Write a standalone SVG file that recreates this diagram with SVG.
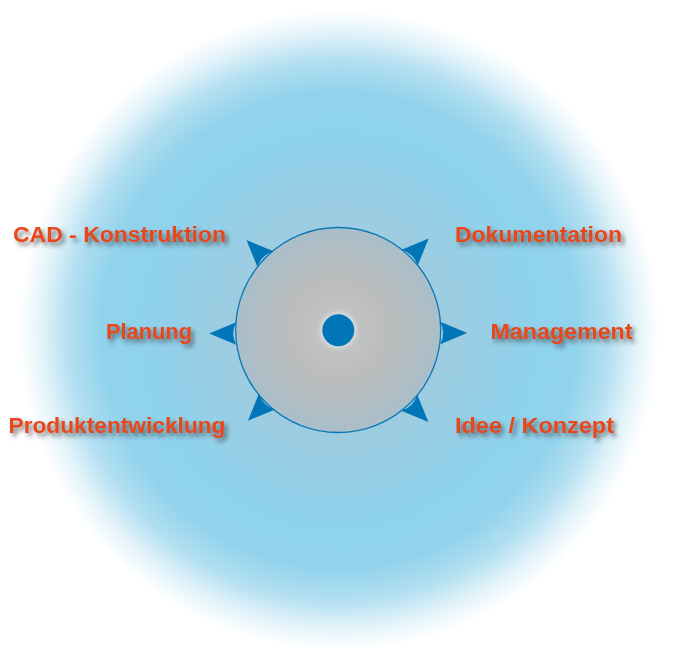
<svg xmlns="http://www.w3.org/2000/svg" xmlns:xlink="http://www.w3.org/1999/xlink" width="677" height="660" viewBox="0 0 677 660">
<style>
.lbl{font-family:"Liberation Sans",Arial,Helvetica,sans-serif;font-weight:bold;font-size:22px;fill:#e8461a;filter:url(#tshadow)}
.arr{fill:#0076b8}
</style>
<defs>
<radialGradient id="bg" gradientUnits="userSpaceOnUse" cx="339" cy="330" r="330">
<stop offset="0" stop-color="#a9c7d4"/>
<stop offset="0.35" stop-color="#9ccde2"/>
<stop offset="0.58" stop-color="#8fd2ec"/>
<stop offset="0.72" stop-color="#91d3ec"/>
<stop offset="0.82" stop-color="#b3dff1"/>
<stop offset="0.9" stop-color="#e2f3fa"/>
<stop offset="0.97" stop-color="#ffffff"/>
</radialGradient>
<radialGradient id="core" gradientUnits="userSpaceOnUse" cx="338" cy="330" r="103">
<stop offset="0" stop-color="#c6c6c6"/>
<stop offset="0.5" stop-color="#bbbcbc"/>
<stop offset="1" stop-color="#a9bfca"/>
</radialGradient>
<filter id="tshadow" x="-10%" y="-40%" width="130%" height="200%">
<feDropShadow dx="3" dy="3.5" stdDeviation="2" flood-color="#2a2a2a" flood-opacity="0.6"/>
</filter>
<filter id="glow" x="-50%" y="-50%" width="200%" height="200%">
<feGaussianBlur stdDeviation="2"/>
</filter>
<path id="arrow" d="M26,0 L-1,-11.3 Q5,0 -1,11.3 Z"/>
</defs>
<rect width="677" height="660" fill="#ffffff"/>
<circle cx="339" cy="330" r="330" fill="url(#bg)"/>
<g id="hub">
<circle cx="338.2" cy="330" r="102.5" fill="url(#core)" stroke="#0a78b8" stroke-width="1.3"/>
<circle cx="338.3" cy="330.2" r="18" fill="#e8eef0" opacity="0.7" filter="url(#glow)"/>
<circle cx="338.3" cy="330.2" r="16" fill="#0076b8"/>
</g>
<g id="connectors">
<use xlink:href="#arrow" class="arr" transform="translate(441.2,333)"/>
<use xlink:href="#arrow" class="arr" transform="translate(235.2,333.5) rotate(180)"/>
<use xlink:href="#arrow" class="arr" transform="translate(410.3,257) rotate(-45)"/>
<use xlink:href="#arrow" class="arr" transform="translate(264.8,258.5) rotate(-135)"/>
<use xlink:href="#arrow" class="arr" transform="translate(266.3,402.3) rotate(135)"/>
<use xlink:href="#arrow" class="arr" transform="translate(410,403.5) rotate(45)"/>
</g>
<g id="n-cad"><text class="lbl" x="13" y="241.5" textLength="213" lengthAdjust="spacingAndGlyphs">CAD - Konstruktion</text></g>
<g id="n-planung"><text class="lbl" x="106" y="338.5" textLength="86" lengthAdjust="spacingAndGlyphs">Planung</text></g>
<g id="n-produkt"><text class="lbl" x="8.5" y="433" textLength="217" lengthAdjust="spacingAndGlyphs">Produktentwicklung</text></g>
<g id="n-doku"><text class="lbl" x="455" y="241.5" textLength="167" lengthAdjust="spacingAndGlyphs">Dokumentation</text></g>
<g id="n-management"><text class="lbl" x="490.5" y="338.5" textLength="142" lengthAdjust="spacingAndGlyphs">Management</text></g>
<g id="n-idee"><text class="lbl" x="455" y="433" textLength="159" lengthAdjust="spacingAndGlyphs">Idee / Konzept</text></g>
</svg>
